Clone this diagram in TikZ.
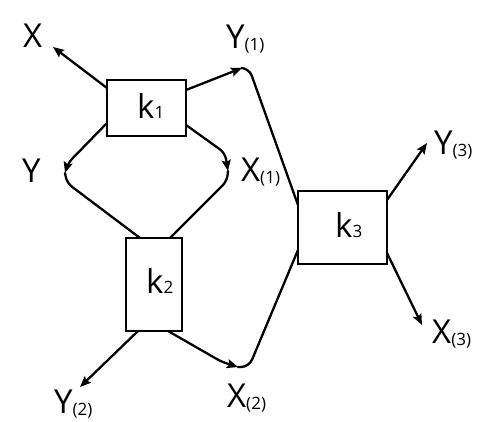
\documentclass[tikz,border=0pt]{standalone}
\usepackage{fontspec}
\setmainfont{Open Sans}
\usetikzlibrary{arrows.meta}
\newcommand{\subt}[1]{\raisebox{-2pt}{\fontsize{17}{18}\selectfont(#1)}}
\newcommand{\subk}[1]{{\fontsize{17}{18}\selectfont #1}}
\begin{document}
\begin{tikzpicture}[x=1pt,y=1pt,
  box/.style={draw,line width=1.5pt,inner sep=0pt,outer sep=0pt},
  lab/.style={inner sep=0pt,anchor=base west,font=\fontsize{33}{35}\selectfont},
  conn/.style={line width=2.3pt,line cap=round,rounded corners=6pt},
  arr/.style={conn,-{Stealth[length=11pt,width=9pt,inset=2pt]}}]
\useasboundingbox (0,0) rectangle (487,421);
% boxes
\node[box,minimum width=79pt,minimum height=56pt] (k1) at (146.5,313) {};
\node[box,minimum width=56pt,minimum height=93pt] (k2) at (154,136.5) {};
\node[box,minimum width=89pt,minimum height=73pt] (k3) at (342.5,193.5) {};
% box texts
\node[lab] (t1) at (137,302) {k\subk{1}};
\node[lab] (t2) at (146,128) {k\subk{2}};
\node[lab] (t3) at (335,184) {k\subk{3}};
% labels
\node[lab] (lX) at (23,373) {X};
\node[lab] (lY1) at (226,372) {Y\subt{1}};
\node[lab] (lY) at (22,239) {Y};
\node[lab] (lX1) at (241,240) {X\subt{1}};
\node[lab] (lY3) at (434,266) {Y\subt{3}};
\node[lab] (lX3) at (432,78) {X\subt{3}};
\node[lab] (lY2) at (54,8) {Y\subt{2}};
\node[lab] (lX2) at (227,14) {X\subt{2}};
% connector coordinates
\coordinate (pX) at (53,374);
\coordinate (pY1) at (242,353);
\coordinate (pY) at (65,248);
\coordinate (pX1) at (228,250);
\coordinate (pY2) at (80,34);
\coordinate (pX2) at (238,54);
\coordinate (pY3) at (427,278);
\coordinate (pX3) at (422,96);
% k1 outputs
\draw[arr] ([yshift=-8pt]k1.north west) -- (pX);
\draw[arr] ([yshift=-10pt]k1.north east) -- (pY1);
\draw[arr] ([yshift=13pt]k1.south west) -- (68,258) -- (pY);
\draw[arr] ([yshift=11pt]k1.south east) -- (225,268) -- (pX1);
% into k2
\draw[conn] (pY) -- (67,238) -- ([xshift=14pt]k2.north west);
\draw[conn] (pX1) -- (227,240) -- ([xshift=-12pt]k2.north east);
% k2 outputs
\draw[arr] ([xshift=12pt]k2.south west) -- (pY2);
\draw[arr] ([xshift=-14pt]k2.south east) -- (222,59) -- (pX2);
% into k3
\draw[conn,rounded corners=8pt] (pY1) -- (249,353) -- ([yshift=-14pt]k3.north west);
\draw[conn,rounded corners=8pt] (pX2) -- (249,54) -- ([yshift=14pt]k3.south west);
% k3 outputs
\draw[arr] ([yshift=-9pt]k3.north east) -- (pY3);
\draw[arr] ([yshift=11pt]k3.south east) -- (pX3);
\end{tikzpicture}
\end{document}
